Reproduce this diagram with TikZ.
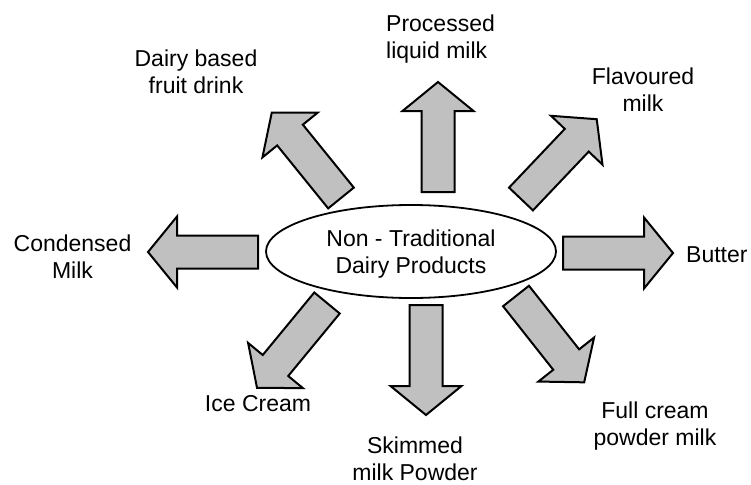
\documentclass[tikz,border=0pt]{standalone}
\usepackage{fontspec}
\setmainfont{Liberation Sans}
\begin{document}
\begin{tikzpicture}[x=1pt,y=-1pt,
  lbl/.style={font=\fontsize{23}{26.5}\selectfont, inner sep=0pt, align=center, anchor=north},
  bigarrow/.pic={\path[draw=black, line width=2pt, fill=arrowgray, line join=miter]
     (0,-16.5) -- (81,-16.5) -- (81,-35.5) -- (110,0) -- (81,35.5) -- (81,16.5) -- (0,16.5) -- cycle;}
]
\definecolor{arrowgray}{RGB}{192,192,192}
\useasboundingbox (0,0) rectangle (751,484);
% centre ellipse
\draw[line width=1.8pt] (411,251.5) ellipse [x radius=145, y radius=46.5];
\node[lbl] (centre) at (411,230) {Non - Traditional\\Dairy Products};
% arrows (tail centre, direction)
\pic (aUp)  at (438,192) [rotate=90] {bigarrow};
\pic (aNE)  at (521,199) [rotate=46.5] {bigarrow};
\pic (aR)   at (563,253) [rotate=0] {bigarrow};
\pic (aSE)  at (516,296) [rotate=-51.7] {bigarrow};
\pic (aD)   at (426,305) [rotate=-90] {bigarrow};
\pic (aSW)  at (327,303) [rotate=-129.5] {bigarrow};
\pic (aL)   at (258,252) [rotate=180] {bigarrow};
\pic (aNW)  at (341,198) [rotate=129] {bigarrow};
% labels
\node[lbl] (fruit) at (196,50) {Dairy based\\fruit drink};
\node[lbl, anchor=north west, align=left] (liquid) at (386,15) {Processed\\liquid milk};
\node[lbl] (flav) at (643,68) {Flavoured\\milk};
\node[lbl, anchor=north west] (butter) at (686,246) {Butter};
\node[lbl] (cond) at (72.5,235) {Condensed\\Milk};
\node[lbl] (ice) at (258,395) {Ice Cream};
\node[lbl] (skim) at (415,437) {Skimmed\\milk Powder};
\node[lbl] (full) at (655,402) {Full cream\\powder milk};
\end{tikzpicture}
\end{document}
